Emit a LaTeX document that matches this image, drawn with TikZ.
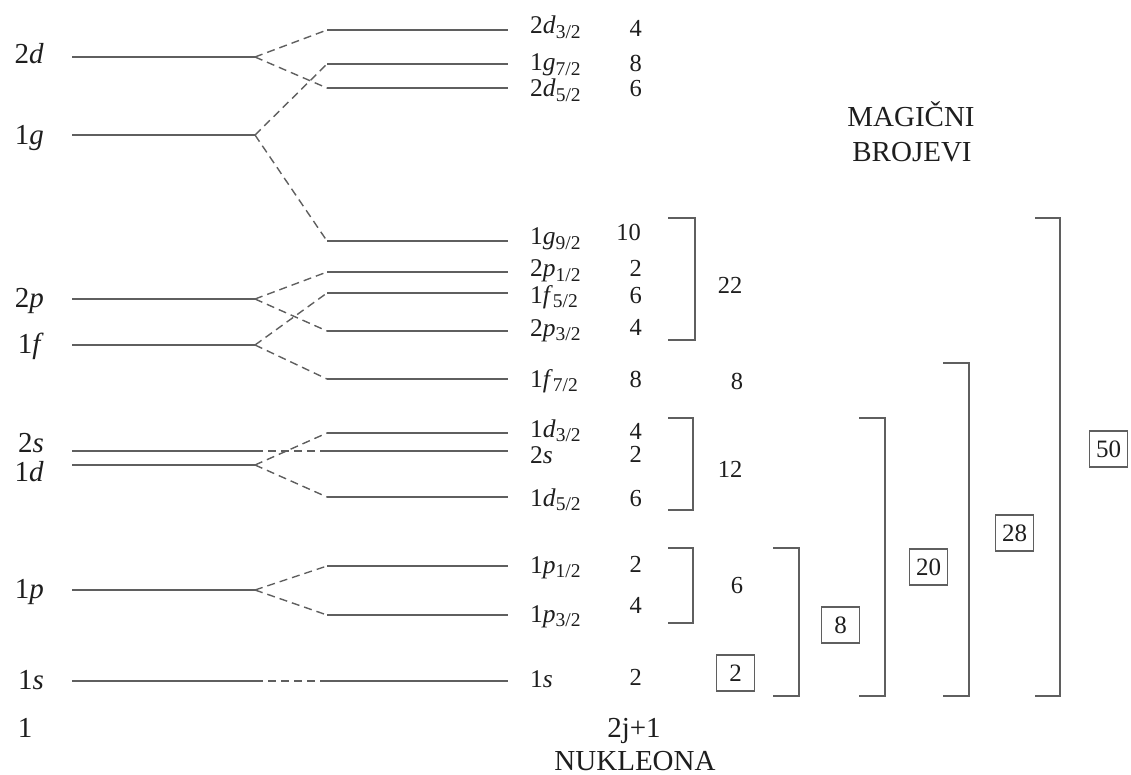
\documentclass[tikz,border=0pt]{standalone}
\usepackage{fontspec}
\setmainfont{Liberation Serif}
\definecolor{linegray}{RGB}{95,95,95}
\definecolor{txt}{RGB}{30,30,30}
\newcommand{\orbl}[3]{#1\textit{#2}\raisebox{-0.4ex}{\fontsize{19.5}{20}\selectfont #3}}
\begin{document}
\begin{tikzpicture}[x=1pt,y=-1pt,
  lvl/.style={draw=linegray, line width=1.5pt},
  split/.style={draw=linegray, line width=1.4pt, dash pattern=on 8pt off 5pt},
  brk/.style={draw=linegray, line width=1.5pt},
  leftlab/.style={font=\fontsize{29}{30}\selectfont, inner sep=0pt, anchor=base east, text=txt},
  rightlab/.style={font=\fontsize{25.5}{26}\selectfont, inner sep=0pt, anchor=base west, text=txt},
  numlab/.style={font=\fontsize{24.5}{26}\selectfont, inner sep=0pt, anchor=base east, text=txt},
  sumlab/.style={font=\fontsize{24.5}{26}\selectfont, inner sep=0pt, anchor=base, text=txt},
  magicbox/.style={draw=linegray, line width=1.2pt, font=\fontsize{25}{26}\selectfont, inner sep=0pt, minimum width=38pt, minimum height=36pt, text=txt},
  title/.style={font=\fontsize{29}{30}\selectfont, inner sep=0pt, anchor=base, text=txt}
]
\useasboundingbox (0,0) rectangle (1131,775);

% ---------- left (unsplit) levels ----------
\foreach \n/\y in {2d/57, 1g/135, 2p/299, 1f/345, 2s/451, 1d/465, 1p/590, 1s/681}{
  \coordinate (A\n) at (72,\y);
  \coordinate (B\n) at (255,\y);
  \draw[lvl] (A\n) -- (B\n);
}
\node[leftlab] (l2d) at (44,64) {2\textit{d}};
\node[leftlab] (l1g) at (44,145) {1\textit{g}};
\node[leftlab] (l2p) at (44,308) {2\textit{p}};
\node[leftlab] (l1f) at (44,353) {1\textit{f}};
\node[leftlab] (l2s) at (44,452) {2\textit{s}};
\node[leftlab] (l1d) at (44,481) {1\textit{d}};
\node[leftlab] (l1p) at (44,598) {1\textit{p}};
\node[leftlab] (l1s) at (44,689) {1\textit{s}};
\node[leftlab, anchor=base] (lone) at (25,737) {1};

% ---------- right (split) levels ----------
\foreach \n/\y in {d32/30, g72/64, d52/88, g92/241, p12/272, f52/293, p32/331, f72/379, d32b/433, s2/451, d52b/497, p12b/566, p32b/615, s1/681}{
  \coordinate (C\n) at (327,\y);
  \coordinate (D\n) at (508,\y);
  \draw[lvl] (C\n) -- (D\n);
}

% ---------- splitting (dashed) ----------
\draw[split] (B2d) -- (Cd32);
\draw[split] (B2d) -- (Cd52);
\draw[split] (B1g) -- (Cg72);
\draw[split] (B1g) -- (Cg92);
\draw[split] (B2p) -- (Cp12);
\draw[split] (B2p) -- (Cp32);
\draw[split] (B1f) -- (Cf52);
\draw[split] (B1f) -- (Cf72);
\draw[split] (B2s) -- (Cs2);
\draw[split] (B1d) -- (Cd32b);
\draw[split] (B1d) -- (Cd52b);
\draw[split] (B1p) -- (Cp12b);
\draw[split] (B1p) -- (Cp32b);
\draw[split] (B1s) -- (Cs1);

% ---------- right labels ----------
\node[rightlab] (rd32) at (530,34) {\orbl{2}{d}{3/2}};
\node[rightlab] (rg72) at (530,71) {\orbl{1}{g}{7/2}};
\node[rightlab] (rd52) at (530,97) {\orbl{2}{d}{5/2}};
\node[rightlab] (rg92) at (530,245) {\orbl{1}{g}{9/2}};
\node[rightlab] (rp12) at (530,277) {\orbl{2}{p}{1/2}};
\node[rightlab] (rf52) at (530,303) {\orbl{1}{f}{5/2}};
\node[rightlab] (rp32) at (530,336) {\orbl{2}{p}{3/2}};
\node[rightlab] (rf72) at (530,387) {\orbl{1}{f}{7/2}};
\node[rightlab] (rd32b) at (530,437) {\orbl{1}{d}{3/2}};
\node[rightlab] (rs2) at (530,463) {2\textit{s}};
\node[rightlab] (rd52b) at (530,506) {\orbl{1}{d}{5/2}};
\node[rightlab] (rp12b) at (530,573) {\orbl{1}{p}{1/2}};
\node[rightlab] (rp32b) at (530,622) {\orbl{1}{p}{3/2}};
\node[rightlab] (rs1) at (530,687) {1\textit{s}};

% ---------- 2j+1 column ----------
\node[numlab] (n1) at (642,37) {4};
\node[numlab] (n2) at (642,72) {8};
\node[numlab] (n3) at (642,97) {6};
\node[numlab] (n4) at (641,241) {10};
\node[numlab] (n5) at (642,277) {2};
\node[numlab] (n6) at (642,303) {6};
\node[numlab] (n7) at (642,335) {4};
\node[numlab] (n8) at (642,387) {8};
\node[numlab] (n9) at (642,439) {4};
\node[numlab] (n10) at (642,462) {2};
\node[numlab] (n11) at (642,506) {6};
\node[numlab] (n12) at (642,572) {2};
\node[numlab] (n13) at (642,613) {4};
\node[numlab] (n14) at (642,685) {2};

% ---------- shell brackets ----------
\draw[brk] (668,218) -- (695,218) -- (695,340) -- (668,340);
\draw[brk] (668,418) -- (693,418) -- (693,510) -- (668,510);
\draw[brk] (668,548) -- (693,548) -- (693,623) -- (668,623);
\node[sumlab] (s22) at (730,294) {22};
\node[sumlab] (s8) at (737,389) {8};
\node[sumlab] (s12) at (730,477) {12};
\node[sumlab] (s6) at (737,593) {6};

% ---------- magic number brackets ----------
\draw[brk] (773,548) -- (799,548) -- (799,696) -- (773,696);
\draw[brk] (859,418) -- (885,418) -- (885,696) -- (859,696);
\draw[brk] (943,363) -- (969,363) -- (969,696) -- (943,696);
\draw[brk] (1035,218) -- (1060,218) -- (1060,696) -- (1035,696);

\node[magicbox] (m2) at (735.5,673) {2};
\node[magicbox] (m8) at (840.5,625) {8};
\node[magicbox] (m20) at (928.5,567) {20};
\node[magicbox] (m28) at (1014.5,533) {28};
\node[magicbox] (m50) at (1108.5,449) {50};

% ---------- titles ----------
\node[title] (t1) at (911,127) {MAGIČNI};
\node[title] (t2) at (912,162) {BROJEVI};
\node[title] (t3) at (634,737) {2j+1};
\node[title] (t4) at (635,770) {NUKLEONA};
\end{tikzpicture}
\end{document}
